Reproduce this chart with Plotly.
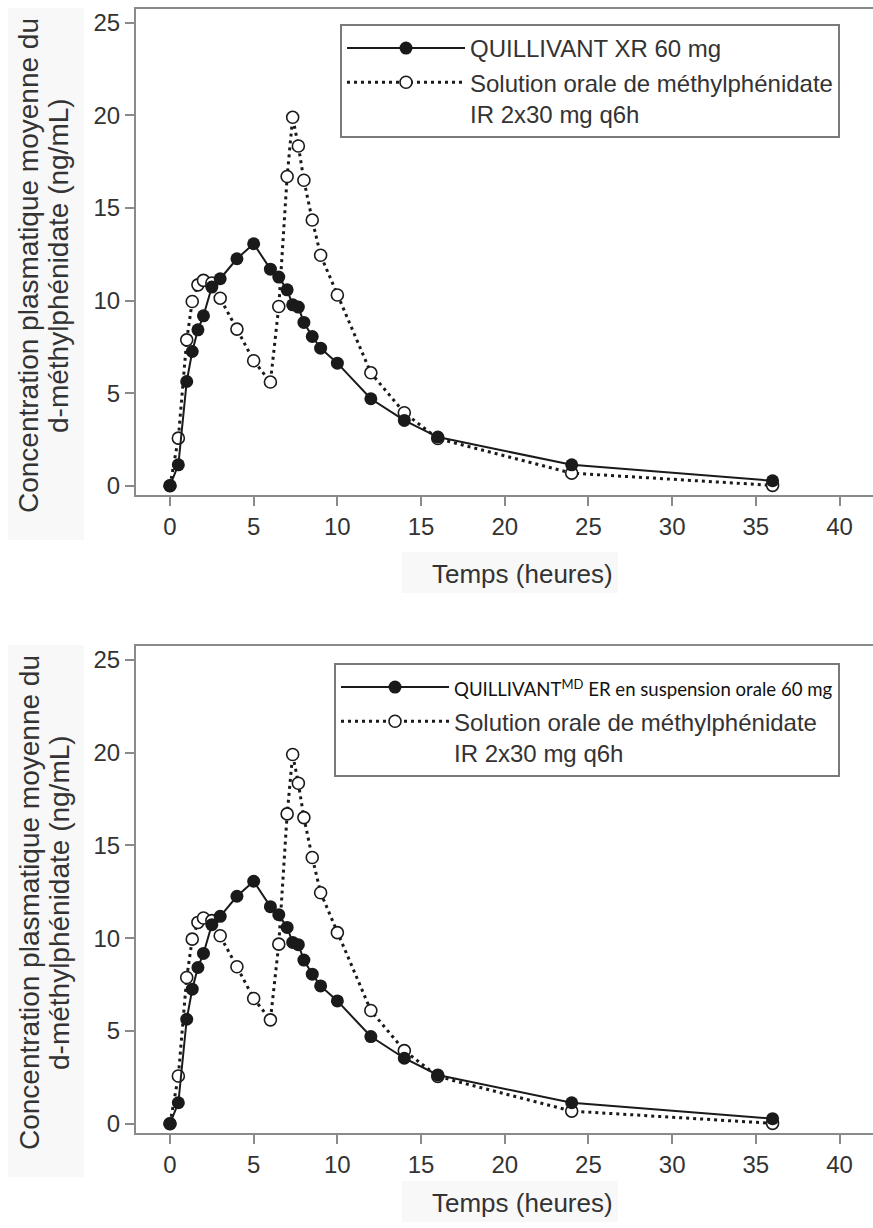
import plotly.graph_objects as go

# ---- data ----
time_xr = [0, 0.5, 1, 1.33, 1.67, 2, 2.5, 3, 4, 5, 6, 6.5, 7, 7.33, 7.67, 8, 8.5, 9, 10, 12, 14, 16, 24, 36]
conc_xr = [0.0, 1.13, 5.63, 7.25, 8.42, 9.18, 10.73, 11.18, 12.26, 13.07, 11.70, 11.27, 10.58, 9.77, 9.65,
           8.82, 8.06, 7.43, 6.62, 4.70, 3.53, 2.63, 1.13, 0.27]

time_ir = [0, 0.5, 1, 1.33, 1.67, 2, 2.5, 3, 4, 5, 6, 6.5, 7, 7.33, 7.67, 8, 8.5, 9, 10, 12, 14, 16, 24, 36]
conc_ir = [0.0, 2.57, 7.88, 9.95, 10.85, 11.09, 10.95, 10.13, 8.46, 6.75, 5.60, 9.68, 16.7, 19.9, 18.35,
           16.5, 14.35, 12.45, 10.3, 6.1, 3.94, 2.55, 0.68, 0.02]

x_ticks = [0, 5, 10, 15, 20, 25, 30, 35, 40]
y_ticks = [0, 5, 10, 15, 20, 25]

name_xr_top = "QUILLIVANT XR 60 mg"
name_xr_bottom = ("<span style='font-family:Lato;font-size:18.6px;color:#111'>"
                  "QUILLIVANT<sup>MD</sup> ER en suspension orale 60 mg</span>")
name_ir = "Solution orale de méthylphénidate<br>IR 2x30 mg q6h"
x_title = "Temps (heures)"
y_title_1 = "Concentration plasmatique moyenne du"
y_title_2 = "d-méthylphénidate (ng/mL)"

INK = "#1a1a1a"
AXIS = "#8a8a8a"
TXT = "#333333"
FONT = "Liberation Sans, Arial, sans-serif"

fig = go.Figure()

for xa, ya, lg, name_xr in [("x", "y", "legend", name_xr_top), ("x2", "y2", "legend2", name_xr_bottom)]:
    fig.add_trace(go.Scatter(
        x=time_ir, y=conc_ir, mode="lines+markers", name=name_ir,
        xaxis=xa, yaxis=ya, legend=lg, legendrank=2,
        line=dict(color=INK, width=3, dash="3px,4px"),
        marker=dict(symbol="circle", size=12, color="white", line=dict(color=INK, width=1.6)),
    ))
    fig.add_trace(go.Scatter(
        x=time_xr, y=conc_xr, mode="lines+markers", name=name_xr,
        xaxis=xa, yaxis=ya, legend=lg, legendrank=1,
        line=dict(color=INK, width=2),
        marker=dict(symbol="circle", size=13, color=INK),
    ))

L, R, T, B = 136, 0, 9, 95
W, H = 873, 1228
PH = H - T - B  # plot height in px
PW = W - L - R


def py(px):  # pixel y -> paper y
    return (H - B - px) / PH


def pxp(px):  # pixel x -> paper x
    return (px - L) / PW


axis_common = dict(showline=True, linecolor=AXIS, linewidth=2, ticks="outside", ticklen=9,
                   tickwidth=1.5, tickcolor=AXIS, showgrid=False, zeroline=False,
                   tickfont=dict(family=FONT, size=24, color=TXT))

legend_common = dict(x=pxp(840), xanchor="right", yanchor="top",
                     bordercolor="#7a7a7a", borderwidth=2, bgcolor="white",
                     font=dict(family=FONT, size=24, color=TXT), valign="top",
                     tracegroupgap=0)

fig.update_layout(
    width=W, height=H,
    margin=dict(l=L, r=R, t=T, b=B),
    paper_bgcolor="white", plot_bgcolor="white",
    font=dict(family=FONT, color=TXT),
    xaxis=dict(range=[-2.03, 42], tickvals=x_ticks, mirror=True, anchor="y", **axis_common),
    yaxis=dict(range=[-0.5, 25.75], tickvals=y_ticks, domain=[py(495), 1], anchor="x", **axis_common),
    xaxis2=dict(range=[-2.03, 42], tickvals=x_ticks, mirror=True, anchor="y2", **axis_common),
    yaxis2=dict(range=[-0.5, 25.75], tickvals=y_ticks, domain=[0, py(646)], anchor="x2", **axis_common),
    legend=dict(y=py(24), itemwidth=118, **legend_common),
    legend2=dict(y=py(663), itemwidth=108, **legend_common),
    showlegend=True,
)

# faint backdrops behind axis titles (as in the source image)
shapes = []
for off, xoff in ((0, 0), (637, 629)):
    shapes.append(dict(type="rect", xref="paper", yref="paper", layer="below",
                       x0=pxp(8), x1=pxp(84), y0=py(540 + off), y1=py(8 + off),
                       fillcolor="#f8f8f8", line=dict(width=0)))
    shapes.append(dict(type="rect", xref="paper", yref="paper", layer="below",
                       x0=pxp(402), x1=pxp(618), y0=py(593 + xoff), y1=py(552 + xoff),
                       fillcolor="#f8f8f8", line=dict(width=0)))
fig.update_layout(shapes=shapes)

ann = []
for off, xoff in ((0, 0), (637, 629)):
    ann.append(dict(text=x_title, xref="paper", yref="paper", x=pxp(522), y=py(574 + xoff),
                    xanchor="center", yanchor="middle", showarrow=False,
                    font=dict(family=FONT, size=26, color=TXT)))
    ann.append(dict(text=y_title_1, xref="paper", yref="paper", x=pxp(29), y=py(266 + off),
                    xanchor="center", yanchor="middle", showarrow=False, textangle=-90,
                    font=dict(family=FONT, size=28, color=TXT)))
    ann.append(dict(text=y_title_2, xref="paper", yref="paper", x=pxp(59), y=py(266 + off),
                    xanchor="center", yanchor="middle", showarrow=False, textangle=-90,
                    font=dict(family=FONT, size=28, color=TXT)))
fig.update_layout(annotations=ann)

fig.write_html("out.html", config={"displayModeBar": False},
               post_script="document.body.style.margin='0';")
